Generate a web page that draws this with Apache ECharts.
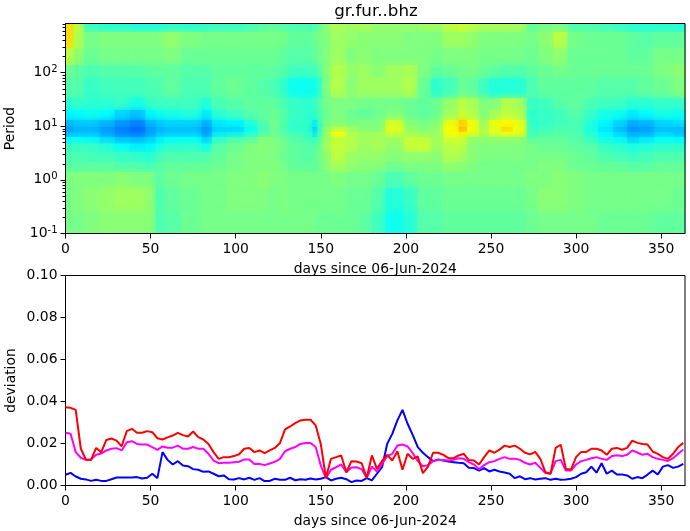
<!DOCTYPE html>
<html lang="en">
<head>
  <meta charset="UTF-8">
  <style>
    html, body { margin: 0; padding: 0; background: #fff; }
    #container { width: 690px; height: 531px; }
  </style>
  <script src="https://cdn.jsdelivr.net/npm/echarts@6/dist/echarts.min.js"></script>
</head>
<body>
  <div id="container"></div>
  <script>
    var titleText = 'gr.fur..bhz';
    var xName = 'days since 06-Jun-2024';
    var xTicks = [0, 50, 100, 150, 200, 250, 300, 350];
    var periodMax = 820;
    var periodMinorTicks = [0.2, 0.3, 0.4, 0.5, 0.6, 0.7, 0.8, 0.9, 2, 3, 4, 5, 6, 7, 8, 9,
      20, 30, 40, 50, 60, 70, 80, 90, 200, 300, 400, 500, 600, 700, 800];

    // column edges in days, row edges in period (top to bottom)
    var dayEdges = [0, 5, 11, 20, 29, 38, 47, 53, 58, 68, 80, 86, 95, 105, 113, 120, 126, 131, 140, 145, 148, 151, 156, 165,
      172, 180, 188, 199, 207, 215, 222, 231, 236, 243, 249, 256, 263, 271, 278, 287, 295, 305, 313, 322, 330, 337, 346, 357, 364];
    var periodEdges = [820, 570, 280, 137, 77, 33, 20, 13, 9.7, 7.8, 6.3, 4.75, 3.3, 2.16, 1.4, 0.69, 0.25, 0.1];

    // colour level 0-100 of each cell, one row per period band
    var cells = [
      [66,56,43,41,41,40,40,40, 41,41,42,43,43,44,46,47, 46,45,45,45,47,51,54,53, 54,52,52,52,53,53,56,58, 56,54,54,54,54,47,49,49, 45,45,44,43,41,41,41,41],
      [66,55,49,50,50,50,50,50, 52,50,49,49,49,49,49,49, 49,47,47,48,49,50,53,52, 51,51,51,50,50,50,53,53, 52,50,50,50,50,49,51,56, 49,48,48,48,47,46,47,47],
      [56,52,48,49,49,49,49,49, 50,48,48,48,48,48,48,48, 47,46,46,47,48,50,53,50, 51,50,50,50,50,49,50,50, 50,49,49,49,49,48,50,52, 48,48,48,48,47,47,49,49],
      [48,47,45,46,46,46,47,47, 47,46,46,47,47,47,47,47, 46,44,44,44,46,50,55,52, 53,51,53,54,50,47,48,49, 49,48,47,46,46,47,48,49, 48,48,48,48,48,48,50,51],
      [46,46,43,44,44,44,45,45, 47,45,45,47,48,47,46,45, 43,39,39,39,41,49,55,51, 53,53,53,55,48,42,44,48, 47,44,41,41,41,45,47,47, 47,47,46,46,46,47,48,50],
      [42,43,42,42,43,40,43,44, 44,44,41,45,46,47,47,47, 45,43,42,43,45,49,50,50, 49,49,49,48,47,48,52,56, 54,50,50,55,54,43,44,46, 47,45,44,44,42,42,43,43],
      [37,38,39,38,34,32,37,39, 40,41,36,42,44,46,47,48, 46,43,42,42,45,48,50,48, 47,48,50,48,47,48,53,57, 55,50,53,56,55,42,43,44, 46,43,40,39,36,38,40,39],
      [31,33,33,31,28,26,31,33, 34,34,30,36,37,42,46,49, 46,43,43,36,43,49,50,49, 50,50,58,50,49,50,60,67, 61,52,60,63,60,42,43,44, 45,41,37,34,30,31,34,35],
      [28,30,30,28,25,23,28,30, 31,31,27,33,33,38,44,48, 45,42,42,33,42,51,55,52, 50,50,60,52,50,52,62,70, 62,54,61,66,62,43,44,45, 45,40,35,31,27,28,31,31],
      [30,31,31,28,25,24,28,31, 32,32,27,35,36,40,45,48, 46,44,43,35,43,52,62,55, 53,53,58,53,52,52,62,64, 60,55,60,62,61,43,45,46, 45,41,37,33,29,29,33,31],
      [38,38,37,34,31,30,32,36, 38,38,33,42,45,46,50,50, 48,46,44,42,46,52,57,55, 53,54,53,57,56,53,58,58, 52,52,52,52,52,47,47,47, 46,43,39,37,33,35,38,37],
      [43,43,43,41,38,36,37,40, 42,42,39,46,48,50,51,50, 49,47,46,46,47,53,57,55, 53,54,52,57,58,53,56,56, 51,50,50,50,50,49,48,48, 47,46,43,42,40,41,42,42],
      [45,45,44,44,43,42,41,44, 45,45,45,47,49,50,50,50, 48,47,46,47,48,51,56,53, 52,52,51,52,52,51,55,54, 51,50,50,50,50,49,49,49, 48,47,45,44,43,44,45,45],
      [46,46,46,46,45,45,44,46, 47,47,47,48,49,50,50,50, 49,47,47,47,48,51,54,52, 51,51,49,50,50,50,52,52, 50,49,49,49,49,49,50,50, 48,48,47,47,46,46,47,47],
      [50,50,50,50,51,50,50,46, 48,49,49,49,50,50,51,50, 50,49,49,49,49,49,50,49, 49,48,45,47,48,48,49,49, 49,49,49,49,49,50,50,51, 50,49,49,49,49,49,49,49],
      [49,50,51,52,53,53,52,45, 47,48,49,49,50,50,50,49, 50,49,49,49,49,49,49,48, 48,46,41,43,47,47,48,48, 48,48,48,48,48,49,51,51, 50,49,49,49,49,49,49,48],
      [49,49,50,51,51,51,51,45, 46,48,49,49,49,49,49,49, 49,49,49,49,48,48,48,48, 47,44,39,41,46,46,47,47, 47,47,47,47,47,48,49,49, 49,49,48,48,48,48,47,47]
    ];

    // line samples, one every 3 days
    var lineDays = [];
    for (var d = 0; d <= 363; d += 3) { lineDays.push(d); }

    var blueLine = [
      .0051,.0060,.0043,.0032,.0029,.0022,.0027,.0022,.0022,.0030,.0038,.0038,.0038,.0038,.0040,.0033,.0037,.0056,.0035,.0159,
      .0122,.0100,.0116,.0095,.0092,.0078,.0075,.0065,.0067,.0056,.0044,.0048,.0030,.0029,.0035,.0029,.0037,.0027,.0035,.0021,
      .0022,.0032,.0027,.0027,.0037,.0025,.0030,.0027,.0033,.0029,.0032,.0040,.0024,.0032,.0037,.0030,.0016,.0024,.0022,.0035,
      .0024,.0056,.0087,.0198,.0246,.0310,.0360,.0294,.0241,.0183,.0156,.0135,.0116,.0124,.0119,.0114,.0111,.0108,.0106,.0084,
      .0083,.0071,.0083,.0067,.0075,.0067,.0062,.0056,.0035,.0044,.0030,.0035,.0029,.0032,.0035,.0027,.0032,.0027,.0029,.0032,
      .0040,.0056,.0063,.0090,.0061,.0106,.0056,.0071,.0052,.0052,.0048,.0032,.0040,.0035,.0052,.0071,.0052,.0090,.0097,.0084,
      .0090,.0103
    ];
    var magentaLine = [
      .0251,.0246,.0159,.0132,.0122,.0124,.0146,.0152,.0167,.0175,.0178,.0167,.0206,.0211,.0198,.0195,.0195,.0183,.0170,.0186,
      .0180,.0180,.0190,.0175,.0175,.0183,.0175,.0175,.0151,.0119,.0106,.0108,.0108,.0111,.0113,.0124,.0124,.0102,.0103,.0097,
      .0105,.0113,.0127,.0163,.0175,.0183,.0198,.0202,.0202,.0183,.0095,.0035,.0075,.0087,.0100,.0063,.0086,.0087,.0078,.0037,
      .0090,.0067,.0103,.0140,.0151,.0190,.0195,.0186,.0154,.0116,.0092,.0097,.0116,.0122,.0121,.0119,.0122,.0130,.0127,.0111,
      .0100,.0078,.0097,.0111,.0116,.0127,.0135,.0127,.0127,.0122,.0108,.0100,.0108,.0084,.0059,.0056,.0116,.0122,.0071,.0071,
      .0100,.0116,.0122,.0130,.0135,.0127,.0122,.0140,.0144,.0140,.0146,.0167,.0157,.0146,.0151,.0135,.0127,.0122,.0117,.0130,
      .0151,.0171
    ];
    var redLine = [
      .0373,.0370,.0360,.0175,.0124,.0122,.0179,.0159,.0217,.0224,.0214,.0187,.0259,.0270,.0251,.0251,.0259,.0254,.0225,.0219,
      .0229,.0238,.0251,.0240,.0233,.0257,.0230,.0219,.0198,.0159,.0127,.0135,.0135,.0140,.0149,.0175,.0179,.0159,.0167,.0154,
      .0167,.0179,.0202,.0267,.0281,.0297,.0310,.0313,.0313,.0286,.0198,.0037,.0127,.0135,.0143,.0063,.0116,.0114,.0106,.0037,
      .0143,.0079,.0117,.0146,.0119,.0163,.0075,.0151,.0127,.0138,.0059,.0090,.0156,.0156,.0146,.0130,.0130,.0143,.0151,.0121,
      .0119,.0100,.0135,.0167,.0156,.0171,.0190,.0183,.0190,.0175,.0156,.0148,.0160,.0127,.0063,.0056,.0179,.0194,.0079,.0076,
      .0135,.0160,.0160,.0175,.0175,.0167,.0146,.0175,.0179,.0170,.0179,.0214,.0203,.0198,.0195,.0162,.0151,.0135,.0127,.0151,
      .0183,.0203
    ];

    var jetStops = ['#000080', '#0000ff', '#0080ff', '#00ffff', '#80ff80', '#ffff00', '#ff8000', '#ff0000', '#800000'];

    var cellData = [];
    cells.forEach(function (row, r) {
      row.forEach(function (level, c) {
        cellData.push([dayEdges[c], dayEdges[c + 1], periodEdges[r], periodEdges[r + 1], level]);
      });
    });

    function zip(values) {
      return values.map(function (v, i) { return [lineDays[i], v]; });
    }

    function renderCell(params, api) {
      var a = api.coord([api.value(0), api.value(2)]);
      var b = api.coord([api.value(1), api.value(3)]);
      var color = api.visual('color');
      return {
        type: 'rect',
        shape: { x: a[0], y: a[1], width: b[0] - a[0] + 0.6, height: b[1] - a[1] + 0.6 },
        // the soft shadow takes the hard edge off the blocks
        style: { fill: color, shadowColor: color, shadowBlur: 9 }
      };
    }

    // short ticks left of the period axis, the log axis does not give them here
    function renderMinorTick(params, api) {
      var p = api.coord([api.value(0), api.value(1)]);
      var y = Math.round(p[1]) + 0.5;
      return {
        type: 'line',
        shape: { x1: p[0], y1: y, x2: p[0] - 3, y2: y },
        style: { stroke: '#000', lineWidth: 1 }
      };
    }

    var tickFont = { color: '#000', fontFamily: 'DejaVu Sans', fontSize: 13.9 };
    var nameFont = { color: '#000', fontFamily: 'DejaVu Sans', fontSize: 13.9 };

    function xAxis(gridIndex) {
      return {
        type: 'value', gridIndex: gridIndex, min: 0, max: 364,
        name: xName, nameLocation: 'middle', nameGap: 29, nameTextStyle: nameFont,
        axisLine: { show: true, onZero: false, lineStyle: { color: '#000', width: 1 } },
        axisTick: { show: true, length: 5, lineStyle: { color: '#000', width: 1 }, customValues: xTicks },
        axisLabel: Object.assign({ margin: 9, customValues: xTicks }, tickFont),
        splitLine: { show: false }
      };
    }

    var option = {
      animation: false,
      backgroundColor: '#fff',
      title: {
        text: titleText, left: 371, top: -2, textAlign: 'center',
        textStyle: { color: '#000', fontFamily: 'DejaVu Sans', fontSize: 16.7, fontWeight: 'normal' }
      },
      visualMap: {
        show: false, type: 'continuous', seriesIndex: 0, dimension: 4,
        min: 0, max: 100, inRange: { color: jetStops }
      },
      grid: [
        { left: 65.5, right: 5, top: 23.5, height: 210, outerBoundsMode: 'none', show: true, borderColor: '#000', borderWidth: 1, backgroundColor: 'transparent', z: 5 },
        { left: 65.5, right: 5, top: 275.5, height: 210, outerBoundsMode: 'none', show: true, borderColor: '#000', borderWidth: 1, backgroundColor: 'transparent' }
      ],
      xAxis: [xAxis(0), xAxis(1)],
      yAxis: [
        {
          type: 'log', gridIndex: 0, logBase: 10, min: 0.1, max: periodMax,
          name: 'Period', nameLocation: 'middle', nameGap: 48, nameMoveOverlap: false, nameTextStyle: nameFont,
          axisLine: { show: true, onZero: false, lineStyle: { color: '#000', width: 1 } },
          axisTick: { show: true, length: 5, lineStyle: { color: '#000', width: 1 } },
          axisLabel: Object.assign({
            margin: 8, showMaxLabel: false,
            formatter: function (v) { return '10{sup|' + Math.round(Math.log10(v)) + '}'; },
            rich: { sup: { fontFamily: 'DejaVu Sans', fontSize: 10, color: '#000', verticalAlign: 'top', padding: [0, 0, 6, 0] } }
          }, tickFont),
          splitLine: { show: false }
        },
        {
          type: 'value', gridIndex: 1, min: 0, max: 0.1, interval: 0.02,
          name: 'deviation', nameLocation: 'middle', nameGap: 47, nameMoveOverlap: false, nameTextStyle: nameFont,
          axisLine: { show: true, onZero: false, lineStyle: { color: '#000', width: 1 } },
          axisTick: { show: true, length: 5, lineStyle: { color: '#000', width: 1 } },
          axisLabel: Object.assign({ margin: 8, formatter: function (v) { return v.toFixed(2); } }, tickFont),
          splitLine: { show: false }
        }
      ],
      series: [
        {
          type: 'custom', xAxisIndex: 0, yAxisIndex: 0, data: cellData,
          encode: { x: [0, 1], y: [2, 3] }, renderItem: renderCell, clip: true, silent: true
        },
        {
          type: 'custom', xAxisIndex: 0, yAxisIndex: 0, clip: false, silent: true, z: 10,
          data: periodMinorTicks.map(function (v) { return [0, v]; }),
          encode: { x: 0, y: 1 }, renderItem: renderMinorTick
        },
        { type: 'line', xAxisIndex: 1, yAxisIndex: 1, data: zip(blueLine), showSymbol: false, lineStyle: { color: '#0000ff', width: 2 } },
        { type: 'line', xAxisIndex: 1, yAxisIndex: 1, data: zip(magentaLine), showSymbol: false, lineStyle: { color: '#ff00ff', width: 2 } },
        { type: 'line', xAxisIndex: 1, yAxisIndex: 1, data: zip(redLine), showSymbol: false, lineStyle: { color: '#ff0000', width: 2 } }
      ]
    };

    var myChart = echarts.init(document.getElementById('container'), null, { renderer: 'canvas' });
    myChart.setOption(option);
  </script>
</body>
</html>
